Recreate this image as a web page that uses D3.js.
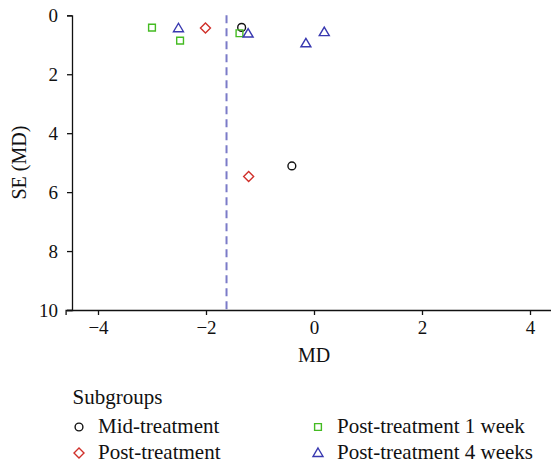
<!DOCTYPE html>
<html>
<head>
<meta charset="utf-8">
<script src="https://cdn.jsdelivr.net/npm/d3@7"></script>
<style>
    body { margin: 0; background: #fff; }
</style>
</head>
<body>
<div id="chart"></div>
<script>
// funnel plot values
var subgroups = ["Mid-treatment", "Post-treatment", "Post-treatment 1 week", "Post-treatment 4 weeks"];
var midTreatment = [{md: -1.34, se: 0.41}, {md: -0.41, se: 5.11}];
var postTreatment = [{md: -2.01, se: 0.43}, {md: -1.21, se: 5.47}];
var post1Week = [{md: -3.00, se: 0.42}, {md: -2.48, se: 0.86}, {md: -1.38, se: 0.61}];
var post4Weeks = [{md: -2.51, se: 0.44}, {md: -1.22, se: 0.62}, {md: -0.15, se: 0.95}, {md: 0.19, se: 0.57}];
var pooledMD = -1.62;
var xTicks = [-4, -2, 0, 2, 4];
var yTicks = [0, 2, 4, 6, 8, 10];

var colors = ["#111111", "#d0302a", "#44bb22", "#3838b0"];
var shapes = ["circle", "diamond", "square", "triangle"];
var seriesData = [midTreatment, postTreatment, post1Week, post4Weeks];

var serif = "'Liberation Serif', 'Times New Roman', 'DejaVu Serif', serif";
var width = 551, height = 464;

var svg = d3.select("#chart").append("svg")
    .attr("width", width)
    .attr("height", height)
    .style("font-family", serif);

var x = d3.scaleLinear().domain([-4.6, 4.6]).range([65.6, 562.4]);
var y = d3.scaleLinear().domain([0, 10]).range([15.3, 310]);

// axes
var xAxis = svg.append("g")
    .attr("transform", "translate(0," + y(10) + ")")
    .call(d3.axisBottom(x).tickValues(xTicks).tickSizeOuter(0).tickSize(5).tickPadding(6));
var yAxis = svg.append("g")
    .attr("transform", "translate(72,0)")
    .call(d3.axisLeft(y).tickValues(yTicks).tickSizeOuter(0).tickSize(5).tickPadding(9));

[xAxis, yAxis].forEach(function (ax) {
    ax.attr("font-family", null).attr("font-size", null);
    ax.selectAll("path, line").attr("stroke", "#111").attr("stroke-width", 1.3);
    ax.selectAll("text")
        .style("font-family", serif)
        .style("font-size", "19px")
        .attr("fill", "#111");
});

svg.append("text")
    .attr("x", x(0))
    .attr("y", 361.5)
    .attr("text-anchor", "middle")
    .style("font-family", serif)
    .style("font-size", "20px")
    .attr("fill", "#111")
    .text("MD");

svg.append("text")
    .attr("transform", "translate(26," + y(5) + ") rotate(-90)")
    .attr("text-anchor", "middle")
    .style("font-family", serif)
    .style("font-size", "20px")
    .attr("fill", "#111")
    .text("SE (MD)");

// pooled estimate line
svg.append("line")
    .attr("x1", x(pooledMD)).attr("x2", x(pooledMD))
    .attr("y1", y(0)).attr("y2", y(10))
    .attr("stroke", "#7b7bc8")
    .attr("stroke-width", 2)
    .attr("stroke-dasharray", "8,5");

function symbolPath(shape) {
    if (shape === "circle") return d3.symbol().type(d3.symbolCircle).size(48)();
    if (shape === "square") return d3.symbol().type(d3.symbolSquare).size(46)();
    if (shape === "diamond") return "M0,-5L5,0L0,5L-5,0Z";
    return "M0,-5L5,3.5L-5,3.5Z";
}

seriesData.forEach(function (data, i) {
    svg.append("g").selectAll("path")
        .data(data)
        .enter().append("path")
        .attr("d", symbolPath(shapes[i]))
        .attr("transform", function (d) {
            return "translate(" + x(d.md) + "," + y(d.se) + ")";
        })
        .attr("fill", "none")
        .attr("stroke", colors[i])
        .attr("stroke-width", 1.4);
});

// legend
var legend = svg.append("g");
legend.append("text")
    .attr("x", 72.5)
    .attr("y", 404)
    .style("font-family", serif)
    .style("font-size", "21px")
    .attr("fill", "#111")
    .text("Subgroups");

var legendPos = [[79, 427], [79, 453], [318, 427], [318, 453]];
subgroups.forEach(function (name, i) {
    var item = legend.append("g")
        .attr("transform", "translate(" + legendPos[i][0] + "," + legendPos[i][1] + ")");
    item.append("path")
        .attr("d", symbolPath(shapes[i]))
        .attr("fill", "none")
        .attr("stroke", colors[i])
        .attr("stroke-width", 1.4);
    item.append("text")
        .attr("x", 19)
        .attr("y", 6)
        .style("font-family", serif)
        .style("font-size", "21px")
        .attr("fill", "#111")
        .text(name);
});
</script>
</body>
</html>
